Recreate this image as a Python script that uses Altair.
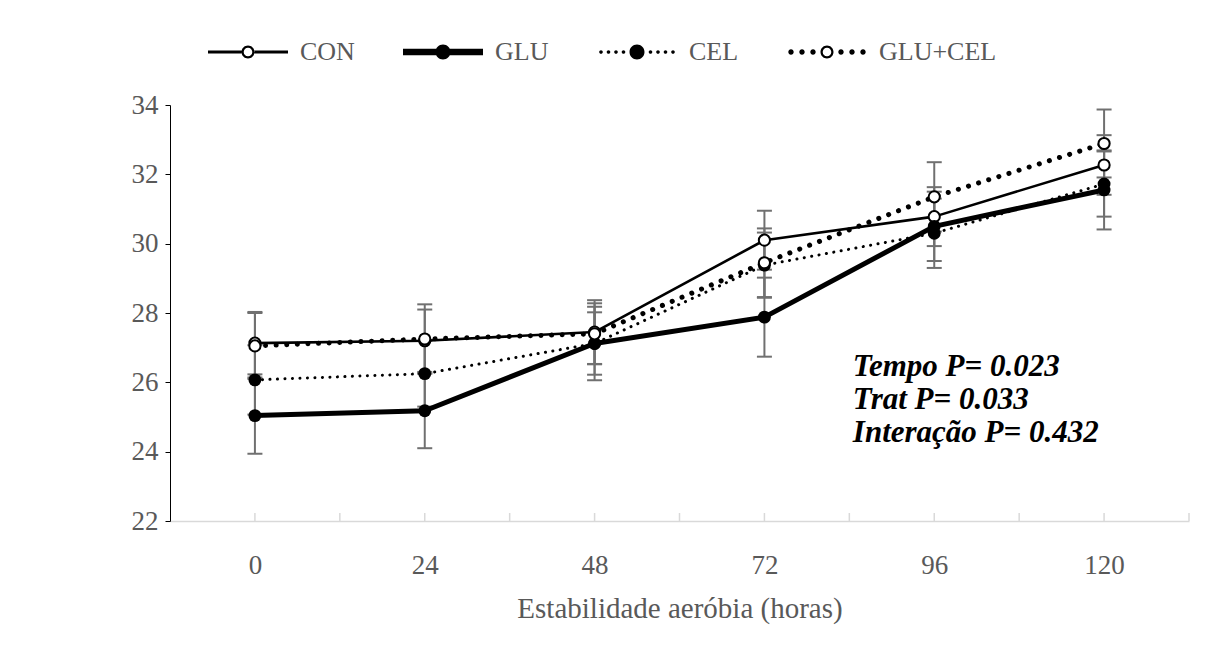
import altair as alt
import pandas as pd

# ---------------- data ----------------
hours = [0, 24, 48, 72, 96, 120]
series_names = ["CON", "GLU", "CEL", "GLU+CEL"]

con_mean = [27.13, 27.20, 27.45, 30.10, 30.78, 32.27]
glu_mean = [25.04, 25.18, 27.12, 27.88, 30.50, 31.55]
cel_mean = [26.07, 26.25, 27.12, 29.38, 30.30, 31.72]
glucel_mean = [27.05, 27.25, 27.40, 29.45, 31.35, 32.89]

con_se = [0.90, 0.90, 0.92, 0.85, 0.85, 0.86]
glu_se = [1.10, 1.08, 1.06, 1.14, 1.00, 1.14]
cel_se = [1.00, 0.95, 0.90, 0.94, 1.00, 0.94]
glucel_se = [0.95, 1.00, 0.88, 0.99, 1.00, 0.98]

x_tick_values = [0, 12, 24, 36, 48, 60, 72, 84, 96, 108, 120, 132]
x_label_values = [0, 24, 48, 72, 96, 120]
y_label_values = [22, 24, 26, 28, 30, 32, 34]
x_domain = [-12, 132]
y_domain = [22, 34]
x_title = "Estabilidade aeróbia (horas)"
annotation_lines = ["Tempo P= 0.023", "Trat P= 0.033", "Interação P= 0.432"]

rows = []
for name, means, ses in zip(series_names,
                            [con_mean, glu_mean, cel_mean, glucel_mean],
                            [con_se, glu_se, cel_se, glucel_se]):
    for h, m, s in zip(hours, means, ses):
        rows.append({"series": name, "hours": h, "mean": m,
                     "lo": round(m - s, 3), "hi": round(m + s, 3)})
df = pd.DataFrame(rows)
ticks_df = pd.DataFrame({"tick": x_tick_values})

# ---------------- styles ----------------
FONT = "Liberation Serif"
ANNOT_FONT = "'Times New Roman', 'Liberation Serif', 'DejaVu Serif', serif"
GRAY = "#595959"
ERR = "#707070"
AXIS_LIGHT = "#d9d9d9"

LINE_STYLE = {
    "CON": dict(strokeWidth=2.6),
    "GLU": dict(strokeWidth=5),
    "CEL": dict(strokeWidth=3, strokeDash=[0.1, 7.4], strokeCap="round"),
    "GLU+CEL": dict(strokeWidth=5, strokeDash=[0.1, 10.5], strokeCap="round"),
}
POINT_FILLED = {"CON": False, "GLU": True, "CEL": True, "GLU+CEL": False}

# legend symbols: custom fill-only paths (unit = 40 px for symbol size 6400)
U = 40.0


def p(v):
    return round(v / U, 4)


def rect(x0, x1, h):
    return f"M{p(x0)},{p(-h / 2)}H{p(x1)}V{p(h / 2)}H{p(x0)}Z"


def circ(cx, r, cw=True):
    s = 1 if cw else 0
    return (f"M{p(cx + r)},0A{p(r)},{p(r)},0,1,{s},{p(cx - r)},0"
            f"A{p(r)},{p(r)},0,1,{s},{p(cx + r)},0Z")


def ring(ro, ri):
    return circ(0, ro, True) + circ(0, ri, False)


def dots(r, positions):
    return "".join(circ(x, r) for x in positions)


legend_paths = [
    rect(-40, -6.5, 3.2) + rect(6.5, 40, 3.2) + ring(6.5, 4.3),
    rect(-40, 40, 6.5) + circ(0, 7.5),
    dots(1.8, [-36, -28.5, -21, -13.5, 13.5, 21, 28.5, 36]) + circ(0, 7.5),
    dots(2.7, [-36, -25, -14, 14, 25, 36]) + ring(6.5, 4.3),
]

# ---------------- scales / axes ----------------
xscale = alt.Scale(domain=x_domain, nice=False, zero=False)
yscale = alt.Scale(domain=y_domain, nice=False, zero=False)

xaxis = alt.Axis(values=x_label_values, ticks=False, grid=False,
                 title=x_title, titleFont=FONT, titleFontSize=29,
                 titleColor=GRAY, titleFontWeight="normal",
                 titleY=96, titleBaseline="alphabetic",
                 labelFont=FONT, labelFontSize=27, labelColor=GRAY,
                 labelPadding=31, domainColor=AXIS_LIGHT, domainWidth=1.5)
yaxis = alt.Axis(values=y_label_values, title=None, grid=False,
                 tickSize=5, tickColor="black", tickWidth=1,
                 domainColor="black", domainWidth=1,
                 labelFont=FONT, labelFontSize=27, labelColor=GRAY,
                 labelPadding=7)


def X(field):
    return alt.X(field, type="quantitative", scale=xscale, axis=xaxis)


def Y(field):
    return alt.Y(field, type="quantitative", scale=yscale, axis=yaxis)


base = alt.Chart(df)

tick_rules = alt.Chart(ticks_df).mark_rule(
    color=AXIS_LIGHT, strokeWidth=1.5, y2Offset=-8
).encode(x=X("tick"), y=alt.datum(22), y2=alt.datum(22))

err_rule = base.mark_rule(color=ERR, strokeWidth=2).encode(
    x=X("hours"), y=Y("lo"), y2="hi:Q")
err_top = base.mark_tick(orient="horizontal", size=15, thickness=2,
                         color=ERR, opacity=1).encode(x=X("hours"), y=Y("hi"))
err_bot = base.mark_tick(orient="horizontal", size=15, thickness=2,
                         color=ERR, opacity=1).encode(x=X("hours"), y=Y("lo"))

lines = []
points = []
for name in series_names:
    sub = base.transform_filter(alt.datum.series == name)
    lines.append(sub.mark_line(color="black", strokeJoin="round",
                               **LINE_STYLE[name]).encode(
        x=X("hours"), y=Y("mean")))
    if POINT_FILLED[name]:
        points.append(sub.mark_circle(color="black", size=165, opacity=1).encode(
            x=X("hours"), y=Y("mean")))
    else:
        points.append(sub.mark_point(shape="circle", filled=True, fill="white",
                                     stroke="black", strokeWidth=2, size=125,
                                     opacity=1).encode(
            x=X("hours"), y=Y("mean")))

annot = alt.Chart(alt.Data(values=[{}])).mark_text(
    text=annotation_lines, align="left", baseline="middle", font=ANNOT_FONT,
    fontSize=31, fontStyle="italic", fontWeight="bold", lineHeight=33,
    color="black"
).encode(x=alt.datum(84.5), y=alt.datum(26.44))

legend_layer = base.transform_filter("false").mark_point(
    filled=True, color="black", opacity=1
).encode(
    x=X("hours"), y=Y("mean"),
    shape=alt.Shape("series:N",
                    scale=alt.Scale(domain=series_names, range=legend_paths),
                    legend=alt.Legend(
                        title=None, orient="none", direction="horizontal",
                        columns=4, legendX=38, legendY=-93,
                        symbolSize=6400, symbolStrokeWidth=0,
                        symbolFillColor="black", symbolOpacity=1,
                        labelFont=FONT, labelFontSize=26, labelColor=GRAY,
                        labelOffset=12, columnPadding=48, padding=0,
                        labelLimit=400)),
)

chart = alt.layer(
    tick_rules, err_rule, err_top, err_bot, *lines, *points, annot, legend_layer
).properties(
    width=1019, height=416,
    autosize=alt.AutoSizeParams(type="none"),
    padding={"left": 162, "top": 97, "right": 21, "bottom": 113},
    background="white",
).configure_view(stroke=None)

chart.save("out.html", embed_options={"renderer": "svg", "actions": False})
